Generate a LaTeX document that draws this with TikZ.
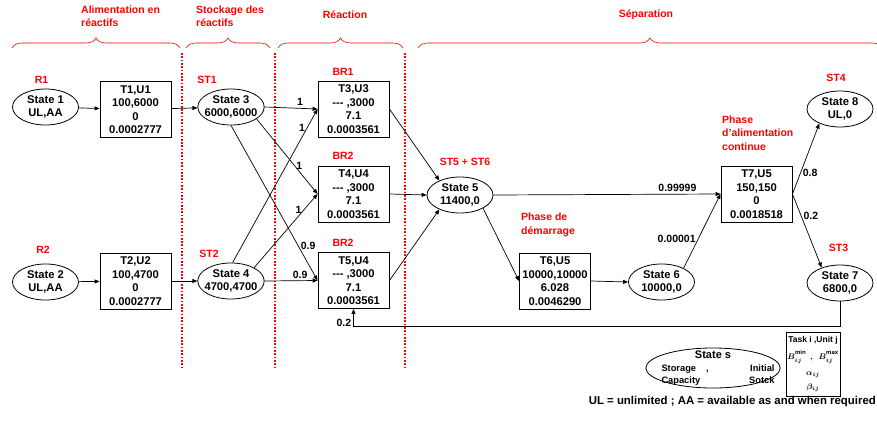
\documentclass[tikz,border=0pt]{standalone}
\usepackage{fontspec}
\setmainfont{Liberation Sans}
\usetikzlibrary{arrows.meta,shapes.geometric,decorations.pathreplacing}

\newcommand{\boxfont}{\fontsize{11.2}{13.5}\selectfont\bfseries}
\newcommand{\redfont}{\fontsize{10.5}{13.5}\selectfont\bfseries}
\newcommand{\smallbold}{\fontsize{9.3}{12}\selectfont\bfseries}
\newcommand{\upsc}[1]{\raisebox{1.5pt}{$\scriptstyle #1$}}

\tikzset{
  state/.style={ellipse, draw, line width=0.8pt, minimum width=66pt, minimum height=36pt,
    inner sep=-3pt, align=center, font=\boxfont},
  taskbox/.style={draw, line width=0.9pt, minimum width=71pt, minimum height=56pt,
    inner sep=1pt, align=center, font=\boxfont},
  redlab/.style={text=red, font=\redfont, inner sep=0pt},
  flow/.style={-{Triangle[length=5pt,width=4pt]}, line width=0.7pt},
  wlab/.style={font=\redfont, inner sep=2pt},
  phasebrace/.style={red, line width=0.6pt, decorate, decoration={brace, amplitude=10pt}},
  sepline/.style={red, line width=2pt, dash pattern=on 1.7pt off 1.6pt}
}

\begin{document}
\begin{tikzpicture}[x=1pt,y=-1pt]
\useasboundingbox (0,0) rectangle (877,423);

% phases
\draw[phasebrace] (12,48) -- (180,48);
\draw[phasebrace] (186,48) -- (270,48);
\draw[phasebrace] (278,48) -- (403,48);
\draw[phasebrace] (418,48) -- (882,48);

\node[redlab, anchor=west, align=left] (PhAlim) at (81,16) {Alimentation en\\réactifs};
\node[redlab, anchor=west, align=left] (PhStock) at (196,16) {Stockage des\\réactifs};
\node[redlab] (PhReac) at (345,15) {Réaction};
\node[redlab] (PhSep) at (646,15) {Séparation};

\draw[sepline] (182,53) -- (182,367);
\draw[sepline] (275,53) -- (275,367);
\draw[sepline] (405,53) -- (405,367);

% states
\node[state] (S1) at (45.5,107) {State 1\\UL,AA};
\node[state] (S2) at (45.5,282) {State 2\\UL,AA};
\node[state] (S3) at (231,107) {State 3\\6000,6000};
\node[state] (S4) at (231,281) {State 4\\4700,4700};
\node[state] (S5) at (460,195) {State 5\\11400,0};
\node[state] (S6) at (661.5,282) {State 6\\10000,0};
\node[state] (S7) at (840,283) {State 7\\6800,0};
\node[state] (S8) at (840,109) {State 8\\UL,0};

% tasks
\node[taskbox] (T1) at (135.5,109.5) {T1,U1\\100,6000\\0\\0.0002777};
\node[taskbox] (T2) at (135.5,281) {T2,U2\\100,4700\\0\\0.0002777};
\node[taskbox] (T3) at (353.5,109) {T3,U3\\-{}-{}- ,3000\\7.1\\0.0003561};
\node[taskbox] (T4) at (353.5,194) {T4,U4\\-{}-{}- ,3000\\7.1\\0.0003561};
\node[taskbox] (T5) at (353.5,280.5) {T5,U4\\-{}-{}- ,3000\\7.1\\0.0003561};
\node[taskbox] (T6) at (555,281) {T6,U5\\10000,10000\\6.028\\0.0046290};
\node[taskbox] (T7) at (756.5,194) {T7,U5\\150,150\\0\\0.0018518};

% red names
\node[redlab] (R1) at (41.5,80) {R1};
\node[redlab] (R2) at (43,250) {R2};
\node[redlab] (ST1) at (207,80) {ST1};
\node[redlab] (ST2) at (209,254) {ST2};
\node[redlab] (BR1) at (343,72) {BR1};
\node[redlab] (BR2a) at (343,156) {BR2};
\node[redlab] (BR2b) at (343,243) {BR2};
\node[redlab] (ST56) at (465,162) {ST5 + ST6};
\node[redlab] (ST4) at (836,78) {ST4};
\node[redlab] (ST3) at (838.5,248) {ST3};
\node[redlab, anchor=west, align=left] (PhDem) at (521,225) {Phase de\\démarrage};
\node[redlab, anchor=west, align=left] (PhCont) at (722,133) {Phase\\d'alimentation\\continue};

% flows
\draw[flow] (S1) -- (T1);
\draw[flow] (T1) -- (S3);
\draw[flow] (S2) -- (T2);
\draw[flow] (T2) -- (S4);
\draw[flow] (S3.east) -- (T3.west) node[wlab, pos=0.67, above] {1};
\draw[flow] (S4.85) -- (T3.west) node[wlab, pos=0.88, left] {1};
\draw[flow] (S3.335) -- (T4.west) node[wlab, pos=0.7, above] {1};
\draw[flow] (S4.30) -- (T4.west) node[wlab, pos=0.7, above] {1};
\draw[flow] (S3.south) -- (T5.west) node[wlab, pos=0.78, right] {0.9};
\draw[flow] (S4.east) -- (T5.west) node[wlab, pos=0.67, above] {0.9};
\draw[flow] (T3.east) -- (S5.145);
\draw[flow] (T4.east) -- (S5.west);
\draw[flow] (T5.east) -- (S5.215);
\draw[flow] (S5.east) -- (T7.west) node[wlab, pos=0.81, above] {0.99999};
\draw[flow] (S5.330) -- (T6.west);
\draw[flow] (T6.east) -- (S6.west);
\draw[flow] (S6.32) -- (T7.west) node[wlab, pos=0.39, left] {0.00001};
\draw[flow] (T7.east) -- (S8.215) node[wlab, pos=0.3, right] {0.8};
\draw[flow] (T7.east) -- (S7.140) node[wlab, pos=0.3, right] {0.2};
\draw[flow] (S7.south) -- ++(0,25) -| node[wlab, pos=0.6, left] {0.2} (T5.south);

% key
\node[state, minimum width=128pt, minimum height=40pt, inner sep=-14pt,
  font=\fontsize{11}{12.5}\selectfont\bfseries] (KeyState) at (713,368)
  {State s\\
   \makebox[123pt][r]{\makebox[113pt][l]{\smallbold Storage\hspace{10pt},\hfill Initial}}\\[-0.5pt]
   \makebox[123pt][r]{\makebox[113pt][l]{\smallbold Capacity\hfill Sotck}}};
\node[draw, line width=0.9pt, minimum width=54pt, minimum height=64pt, inner sep=0pt,
  align=center, font=\fontsize{8.5}{14}\selectfont\bfseries\boldmath] (KeyTask) at (813,364)
  {Task i ,Unit j\\[3pt]$B^{\upsc{\min}}_{ij}\hspace{4pt},\hspace{4pt}B^{\upsc{\max}}_{ij}$\\[2pt]$\alpha_{ij}$\\$\beta_{ij}$};
\node[anchor=east, font=\fontsize{11.4}{12}\selectfont\bfseries, inner sep=0pt] (Note) at (876,402)
  {UL = unlimited ; AA = available as and when required};
\end{tikzpicture}
\end{document}
